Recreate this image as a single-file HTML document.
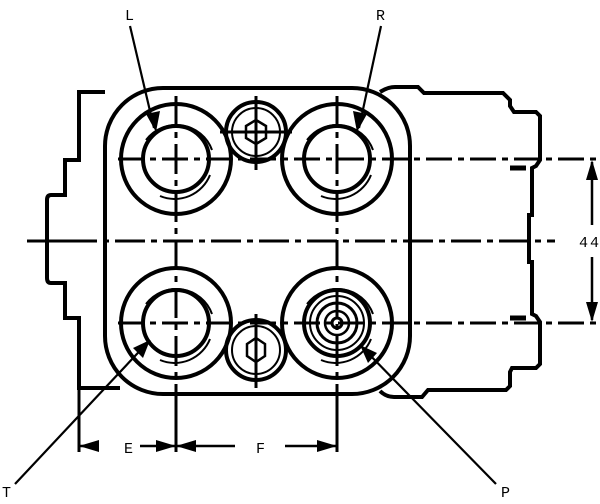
<!DOCTYPE html>
<html><head><style>body{margin:0;background:#fff}svg{display:block}</style></head><body>
<svg width="600" height="504" viewBox="0 0 600 504" xmlns="http://www.w3.org/2000/svg" font-family="'Liberation Mono', 'DejaVu Sans Mono', monospace">
<g fill="none" stroke="#000" stroke-width="4">
<path d="M105 92 H79 V160 H65 V195 H51 Q47 195 47 200 V278 Q47 283 51 283 H65 V318 H79 V388 H120"/>
<rect x="105" y="88" width="305" height="306" rx="58"/>
<path d="M380 92 Q388 87 395 87 H418 L424 93 H503 L510 100 V106 L514 112 H536 L540 116 V160 L536 166 L532 168 V215 H529 V262 H532 V314 L536 316 L540 322 V364 L536 368 H512 L510 372 V386 L506 390 H428 L422 397 H394 Q386 397 380 391"/>
<path d="M510 168 H526 M510 318 H526" stroke-width="5"/>
<circle cx="176" cy="159" r="55"/><circle cx="176" cy="159" r="33"/>
<circle cx="337" cy="159" r="55"/><circle cx="337" cy="159" r="33"/>
<circle cx="176" cy="323" r="55"/><circle cx="176" cy="323" r="33"/>
<circle cx="337" cy="323" r="55"/><circle cx="337" cy="323" r="33"/>
<circle cx="256" cy="132" r="30"/><circle cx="256" cy="350" r="30"/>
</g>
<g fill="none" stroke="#000" stroke-width="2">
<path d="M146 140 A38 38 0 0 1 212 150 M160 196 A38 38 0 0 0 210 175"/>
<path d="M307 140 A38 38 0 0 1 373 150 M321 196 A38 38 0 0 0 371 175"/>
<path d="M146 304 A38 38 0 0 1 212 314 M160 360 A38 38 0 0 0 210 339"/>
<circle cx="256" cy="132" r="24"/><circle cx="256" cy="350" r="24"/>
<path d="M256 120 L266 126 V138 L256 144 L246 138 V126 Z" stroke-width="2.5"/>
<path d="M256 338 L265 344 V356 L256 362 L247 356 V344 Z" stroke-width="2.5"/>
<circle cx="337" cy="323" r="27"/><circle cx="337" cy="323" r="20" stroke-width="3"/>
<circle cx="337" cy="323" r="12" stroke-width="2.5"/><circle cx="337" cy="323" r="5" stroke-width="3"/>
<path d="M307 304 A38 38 0 0 1 373 314 M321 360 A38 38 0 0 0 371 339"/>
</g>
<g stroke="#000" stroke-width="3" fill="none">
<path d="M118 159 H600 M118 323 H600" stroke-dasharray="26,6,6,6"/>
<path d="M27 241 H555" stroke-dasharray="70,6,6,6,30,6,6,6,30,6,6,6,30,6,6,6,30,6,6,6,30,6,6,6,30,6,6,6,30,6,6,6,30,6,6,6,30,6,6,6"/>
<path d="M176 96 V400 M337 96 V400" stroke-dasharray="30,6,6,6"/>
<path d="M256 96 V170 M256 314 V388 M220 132 H292"/>
<path d="M79 390 V452 M176 400 V452 M337 400 V452"/>
<path d="M79 446 H95 M140 446 H176 M176 446 H235 M285 446 H337" stroke-width="2.5"/>
<path d="M592 162 V225 M592 257 V320" stroke-width="2.5"/>
<path d="M130 26 L154 128 M381 26 L359 128 M15 484 L150 340 M496 484 L360 345" stroke-width="2.2"/>
</g>
<g fill="#000">
<path d="M79 446 L99 440 V452 Z M176 446 L156 440 V452 Z M176 446 L196 440 V452 Z M337 446 L317 440 V452 Z"/>
<path d="M592 160 L586 180 H598 Z M592 322 L586 302 H598 Z"/>
<path d="M156 132 L146 114 L160 111 Z M357 132 L353 111 L367 114 Z M150 340 L143 358 L133 348 Z M360 345 L377 353 L368 363 Z"/>
</g>
<g font-size="15" fill="#000">
<text x="125" y="20">L</text><text x="376" y="20">R</text>
<text x="2" y="497">T</text><text x="501" y="497">P</text>
<text x="124" y="453">E</text><text x="256" y="453">F</text>
<text x="579" y="247" letter-spacing="2">44</text>
</g>
</svg>
</body></html>
